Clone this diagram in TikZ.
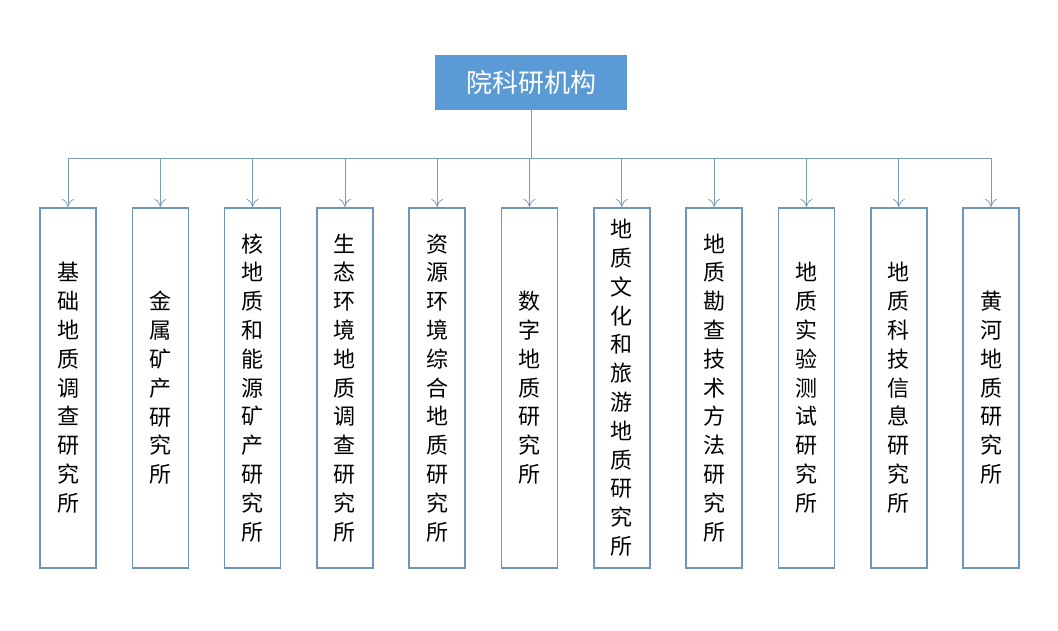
\documentclass[tikz,border=0pt]{standalone}
\usepackage{fontspec}
\newfontfamily\cjk{Noto Sans CJK SC}
\usetikzlibrary{arrows.meta}
\definecolor{lineC}{HTML}{7E9CB5}
\definecolor{boxC}{HTML}{6E95BA}
\definecolor{topC}{HTML}{5B9BD5}
\begin{document}
\begin{tikzpicture}[x=1pt,y=-1pt,
  inst/.style={draw=boxC,line width=1.6pt,minimum width=56pt,minimum height=360pt,inner sep=0pt,
    font=\cjk\fontsize{22}{28.8}\selectfont,align=center,text width=30pt,anchor=north},
  top/.style={fill=topC,text=white,minimum width=192pt,minimum height=55pt,font=\cjk\fontsize{26}{30}\selectfont},
  conn/.style={draw=lineC,line width=0.8pt},
  arr/.style={conn,-{To[length=8pt,width=12pt]}}]
\useasboundingbox (0,0) rectangle (1058,631);
\node[top] (root) at (531,82.5) {院科研机构};
\coordinate (bus) at (531,158);
\draw[conn] (root.south) -- (bus);
\foreach \i/\t in {1/基\\础\\地\\质\\调\\查\\研\\究\\所,2/金\\属\\矿\\产\\研\\究\\所,3/核\\地\\质\\和\\能\\源\\矿\\产\\研\\究\\所,4/生\\态\\环\\境\\地\\质\\调\\查\\研\\究\\所,5/资\\源\\环\\境\\综\\合\\地\\质\\研\\究\\所,6/数\\字\\地\\质\\研\\究\\所,7/地\\质\\文\\化\\和\\旅\\游\\地\\质\\研\\究\\所,8/地\\质\\勘\\查\\技\\术\\方\\法\\研\\究\\所,9/地\\质\\实\\验\\测\\试\\研\\究\\所,10/地\\质\\科\\技\\信\\息\\研\\究\\所,11/黄\\河\\地\\质\\研\\究\\所}{
  \pgfmathsetmacro\xx{68+(\i-1)*92.3}
  \node[inst] (b\i) at (\xx,207) {\t};
  \coordinate (c\i) at (\xx,158);
  \draw[arr] (c\i) -- (b\i.north);
}
\draw[conn] (c1) -- (c11);
\end{tikzpicture}
\end{document}
